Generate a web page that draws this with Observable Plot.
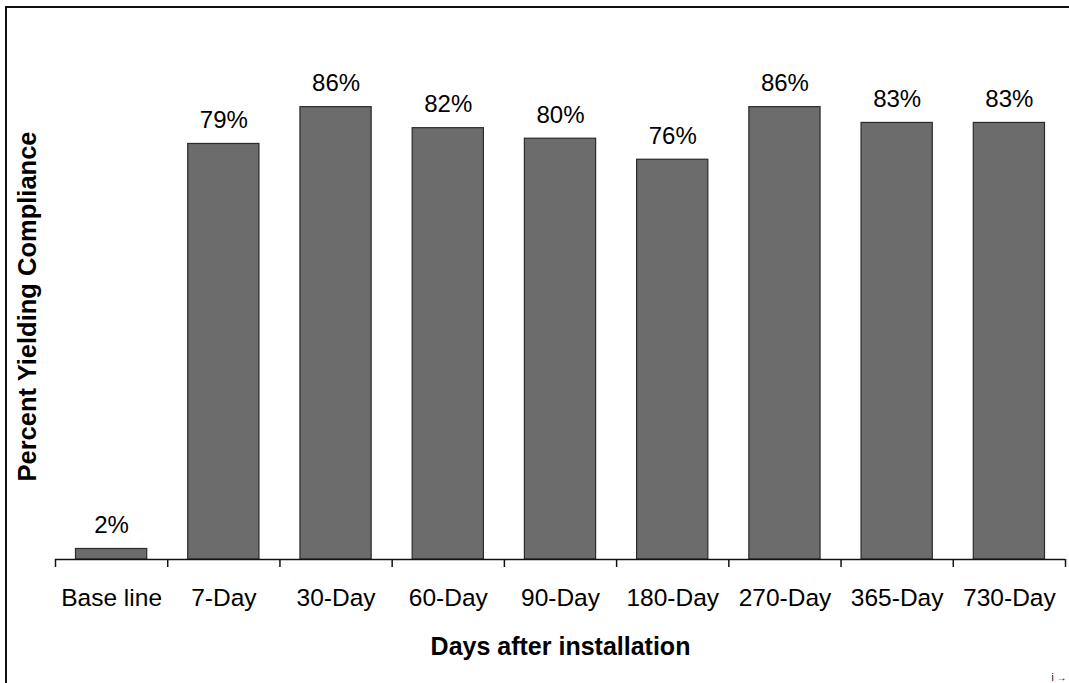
<!DOCTYPE html>
<html>
<head>
<meta charset="utf-8">
<script src="https://cdn.jsdelivr.net/npm/d3@7"></script>
<script src="https://cdn.jsdelivr.net/npm/@observablehq/plot@0.6"></script>
<style>
  html, body { margin: 0; padding: 0; background: #fff; }
  #wrap { position: relative; width: 1069px; height: 683px; overflow: hidden; }
  #border { position: absolute; left: 5px; top: 6px; width: 1100px; height: 700px;
            border-top: 2px solid #111; border-left: 2px solid #111; pointer-events: none; }
</style>
</head>
<body>
<div id="wrap"><div id="border"></div></div>
<script>
const categories = ["Base line", "7-Day", "30-Day", "60-Day", "90-Day", "180-Day", "270-Day", "365-Day", "730-Day"];
const values = [2, 79, 86, 82, 80, 76, 86, 83, 83];
const xTitle = "Days after installation";
const yTitle = "Percent Yielding Compliance";

const data = categories.map((c, i) => ({ category: c, i, value: values[i], label: values[i] + "%" }));
const font = "Liberation Sans, Arial, Helvetica, sans-serif";

const chart = Plot.plot({
  width: 1069,
  height: 683,
  marginLeft: 55,
  marginRight: 4,
  marginTop: 33,
  marginBottom: 124,
  style: { fontFamily: font, background: "transparent", overflow: "visible" },
  x: { type: "linear", domain: [0, categories.length], axis: null },
  y: { domain: [0, 100], axis: null },
  marks: [
    Plot.rectY(data, {
      x1: "i", x2: d => d.i + 1, y1: 0, y2: "value",
      insetLeft: 20.5, insetRight: 20.5,
      fill: "#6c6c6c", stroke: "#2b2b2b", strokeWidth: 1.2
    }),
    Plot.ruleY([0], { stroke: "#111", strokeWidth: 1.5 }),
    Plot.axisX({ ticks: d3.range(categories.length + 1), tickFormat: () => "", tickSize: 8, stroke: "#111", strokeWidth: 1.5 }),
    Plot.text(data, {
      x: d => d.i + 0.5, y: "value", text: "label",
      lineAnchor: "bottom", dy: -16, fontSize: 24, fill: "#000"
    }),
    Plot.text(data, {
      x: d => d.i + 0.5, y: 0, text: "category",
      lineAnchor: "bottom", dy: 46, fontSize: 24.5, fill: "#000"
    }),
    Plot.text([xTitle], {
      frameAnchor: "bottom", text: d => d, lineAnchor: "bottom", textAnchor: "middle",
      dy: 95, fontSize: 25, fontWeight: "bold", fill: "#000"
    }),
    Plot.text([yTitle], {
      frameAnchor: "left", text: d => d, lineAnchor: "bottom", textAnchor: "middle", rotate: -90,
      dx: -20, dy: 10, fontSize: 25.5, fontWeight: "bold", fill: "#000"
    })
  ]
});
document.getElementById("wrap").appendChild(chart);
chart.style.position = "absolute";
chart.style.left = "0";
chart.style.top = "0";
</script>
</body>
</html>
